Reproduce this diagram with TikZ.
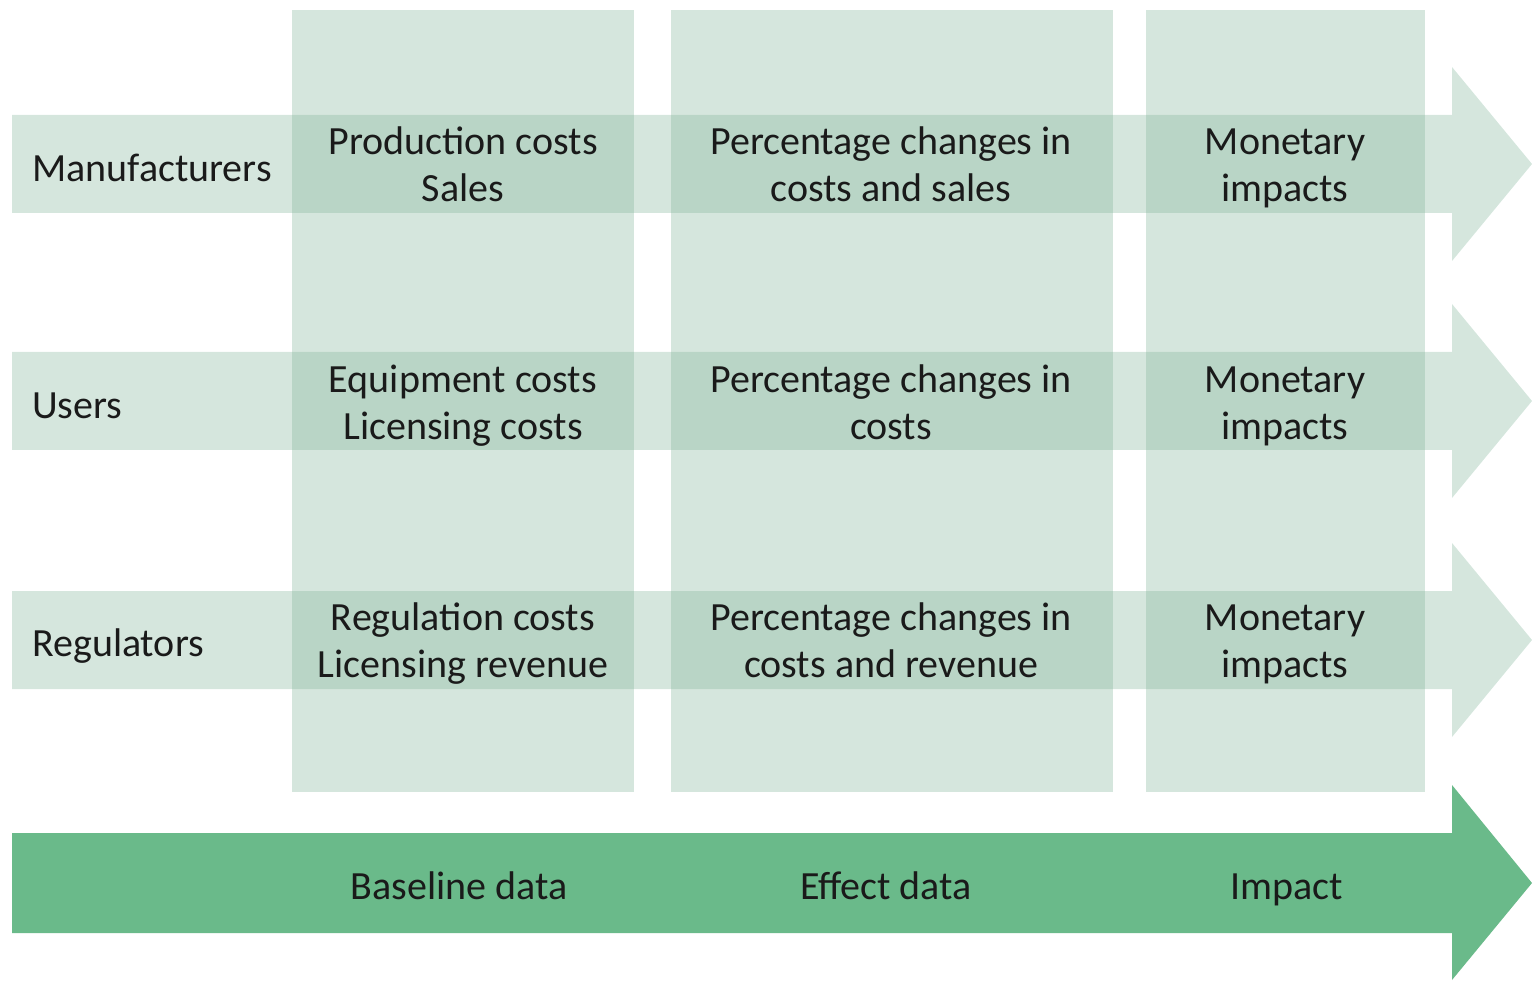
\documentclass[tikz,border=0pt]{standalone}
\usepackage{fontspec}
\setmainfont{Carlito}
\begin{document}
\begin{tikzpicture}[x=1pt,y=-1pt,
  colbox/.style={fill=colgreen,fill opacity=0.32},
  rowarrow/.style={fill=colgreen,fill opacity=0.32},
  bigarrow/.style={fill=darkgreen},
  lbl/.style={text=txt,font=\fontsize{40}{47}\selectfont,align=center,inner sep=0pt},
  rowlbl/.style={lbl,anchor=west}]
\definecolor{colgreen}{HTML}{7DB296}
\definecolor{darkgreen}{HTML}{6ABA8A}
\definecolor{txt}{HTML}{1A1A1A}
\useasboundingbox (0,0) rectangle (1532,981);
% columns
\fill[colbox] (292,10) rectangle (634,792);
\fill[colbox] (671,10) rectangle (1113,792);
\fill[colbox] (1146,10) rectangle (1425,792);
% row arrows
\foreach \y in {164,401,640}{
  \fill[rowarrow] (12,\y-49) -- (1452,\y-49) -- (1452,\y-97) -- (1532,\y) -- (1452,\y+97) -- (1452,\y+49) -- (12,\y+49) -- cycle;
}
% bottom arrow
\fill[bigarrow] (12,833) -- (1452,833) -- (1452,785) -- (1532,883) -- (1452,980) -- (1452,933) -- (12,933) -- cycle;
% row labels
\node[rowlbl] (man) at (32,172.4) {\strut Manufacturers};
\node[rowlbl] (use) at (32,409.4) {\strut Users};
\node[rowlbl] (reg) at (32,647.4) {\strut Regulators};
% column 1
\node[lbl] (b1) at (463,168.6) {\strut Production costs\\\strut Sales};
\node[lbl] (b2) at (463,406.6) {\strut Equipment costs\\\strut Licensing costs};
\node[lbl] (b3) at (463,644.6) {\strut Regulation costs\\\strut Licensing revenue};
% column 2
\node[lbl] (e1) at (891,168.6) {\strut Percentage changes in\\\strut costs and sales};
\node[lbl] (e2) at (891,406.6) {\strut Percentage changes in\\\strut costs};
\node[lbl] (e3) at (891,644.6) {\strut Percentage changes in\\\strut costs and revenue};
% column 3
\node[lbl] (i1) at (1285,168.6) {\strut Monetary\\\strut impacts};
\node[lbl] (i2) at (1285,406.6) {\strut Monetary\\\strut impacts};
\node[lbl] (i3) at (1285,644.6) {\strut Monetary\\\strut impacts};
% bottom labels
\node[lbl] (bl) at (459,889.6) {\strut Baseline data};
\node[lbl] (ed) at (886,889.6) {\strut Effect data};
\node[lbl] (im) at (1287,889.6) {\strut Impact};
\end{tikzpicture}
\end{document}
